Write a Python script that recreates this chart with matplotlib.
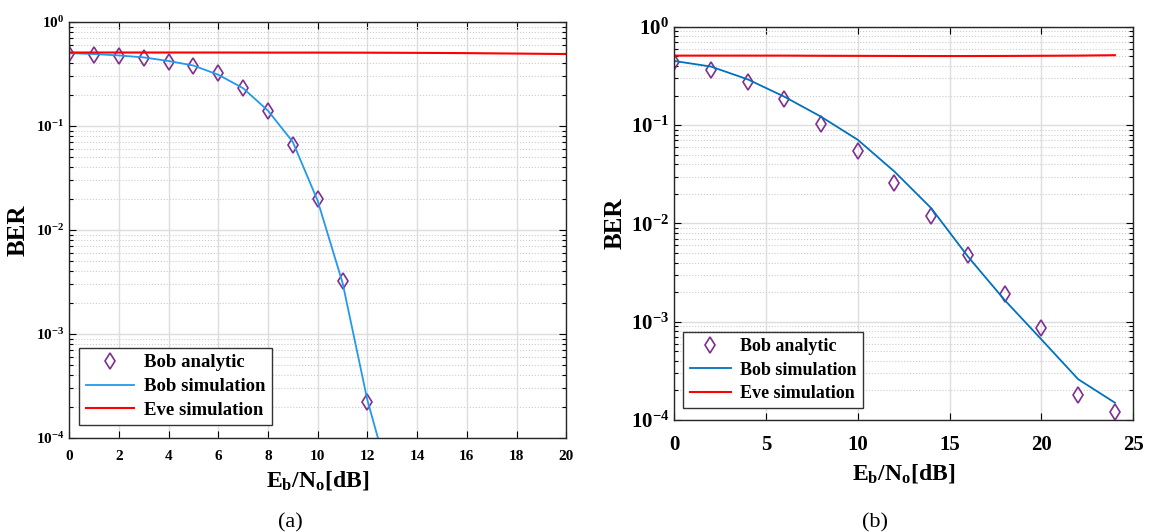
import numpy as np
import matplotlib.pyplot as plt
from matplotlib.ticker import FixedLocator, FuncFormatter, LogLocator, NullFormatter

plt.rcParams['font.family'] = 'Liberation Serif'
plt.rcParams['font.weight'] = 'bold'
plt.rcParams['mathtext.fontset'] = 'custom'
plt.rcParams['mathtext.rm'] = 'Liberation Serif:bold'
plt.rcParams['mathtext.it'] = 'Liberation Serif:bold'
plt.rcParams['mathtext.bf'] = 'Liberation Serif:bold'

# (a) data
snr_a_ana = [0, 1, 2, 3, 4, 5, 6, 7, 8, 9, 10, 11, 12]
bob_a_ana = [0.49, 0.48, 0.47, 0.45, 0.41, 0.38, 0.32, 0.23, 0.14, 0.066, 0.020, 0.0032, 2.2e-4]
snr_a_sim = [0, 1, 2, 3, 4, 5, 6, 7, 8, 9, 10, 11, 12, 13]
bob_a_sim = [0.50, 0.49, 0.475, 0.455, 0.42, 0.38, 0.31, 0.23, 0.14, 0.070, 0.019, 0.0031, 2.3e-4, 3.2e-5]
snr_a_eve = [0, 2, 4, 6, 8, 10, 12, 14, 16, 18, 20]
eve_a_sim = [0.507, 0.507, 0.507, 0.507, 0.506, 0.506, 0.505, 0.503, 0.500, 0.495, 0.490]

# (b) data
snr_b = [0, 2, 4, 6, 8, 10, 12, 14, 16, 18, 20, 22, 24]
bob_b_ana = [0.44, 0.365, 0.275, 0.184, 0.102, 0.055, 0.026, 0.0118, 0.0048, 0.0019, 8.7e-4, 1.8e-4, 1.2e-4]
bob_b_sim = [0.45, 0.395, 0.293, 0.195, 0.122, 0.071, 0.0337, 0.0143, 0.0046, 0.00166, 6.6e-4, 2.6e-4, 1.5e-4]
eve_b_sim = [0.51, 0.51, 0.51, 0.51, 0.508, 0.507, 0.506, 0.505, 0.505, 0.506, 0.508, 0.51, 0.515]

xticks_a = [0, 2, 4, 6, 8, 10, 12, 14, 16, 18, 20]
xticks_b = [0, 5, 10, 15, 20, 25]

purple = '#7E2F8E'

fig = plt.figure(figsize=(11.51, 5.32), dpi=100)
ax1 = fig.add_axes([0.060, 0.177, 0.432, 0.782])
ax2 = fig.add_axes([0.5856, 0.2105, 0.399, 0.739])


def style(ax, xticks, xmax, tsize, xpad):
    ax.set_yscale('log')
    ax.set_ylim(1e-4, 1)
    ax.set_xlim(0, xmax)
    ax.xaxis.set_major_locator(FixedLocator(xticks))
    ax.yaxis.set_major_locator(LogLocator(base=10, numticks=10))
    ax.yaxis.set_minor_locator(LogLocator(base=10, subs=np.arange(2, 10), numticks=20))
    ax.yaxis.set_minor_formatter(NullFormatter())
    ax.yaxis.set_major_formatter(FuncFormatter(lambda v, p: r'$\mathbf{10^{%d}}$' % round(np.log10(v))))
    ax.tick_params(which='both', direction='in', top=True, right=True, labelsize=tsize, width=0.8)
    ax.tick_params(which='major', length=5)
    ax.tick_params(which='minor', length=3)
    ax.tick_params(axis='x', pad=xpad)
    ax.grid(True, which='major', color='#dddddd', linewidth=1.0)
    ax.grid(True, which='minor', axis='y', color='#cccccc', linestyle=':', linewidth=0.8)
    ax.set_axisbelow(True)
    for s in ax.spines.values():
        s.set_linewidth(1.0)
        s.set_color('#262626')
    ax.set_ylabel('BER', fontsize=18, fontweight='bold')
    ax.set_xlabel(r'$\mathbf{E_b/N_o[dB]}$', fontsize=17)


style(ax1, xticks_a, 20, 11, 9)
ax1.plot(snr_a_ana, bob_a_ana, 'd', color=purple, mfc='none', markersize=8, markeredgewidth=1.2, label='Bob analytic')
ax1.plot(snr_a_sim, bob_a_sim, '-', color='#2299ee', linewidth=1.3, label='Bob simulation')
ax1.plot(snr_a_eve, eve_a_sim, '-', color='#ff0000', linewidth=1.5, label='Eve simulation')
ax1.set_ylim(1e-4, 1)
ax1.xaxis.labelpad = 4
ax1.yaxis.labelpad = 4

style(ax2, xticks_b, 25, 15, 11)
ax2.plot(snr_b, bob_b_ana, 'd', color=purple, mfc='none', markersize=8, markeredgewidth=1.2, label='Bob analytic')
ax2.plot(snr_b, bob_b_sim, '-', color='#0072BD', linewidth=1.3, label='Bob simulation')
ax2.plot(snr_b, eve_b_sim, '-', color='#ff0000', linewidth=1.5, label='Eve simulation')
ax2.set_ylim(1e-4, 1)
ax2.xaxis.labelpad = 5
ax2.yaxis.labelpad = 3

for ax, fs, hl in ((ax1, 13.5, 2.6), (ax2, 13, 2.3)):
    leg = ax.legend(loc='lower left', bbox_to_anchor=(0.02, 0.03), fontsize=fs, fancybox=False,
                    framealpha=1, edgecolor='#333333', handlelength=hl, borderpad=0.35,
                    labelspacing=0.35, handletextpad=0.5, borderaxespad=0)
    leg.get_frame().set_linewidth(1.0)

fig.text(0.252, 0.008, '(a)', fontsize=16, fontweight='normal', ha='center')
fig.text(0.760, 0.008, '(b)', fontsize=16, fontweight='normal', ha='center')

fig.savefig('out.png', dpi=100)
